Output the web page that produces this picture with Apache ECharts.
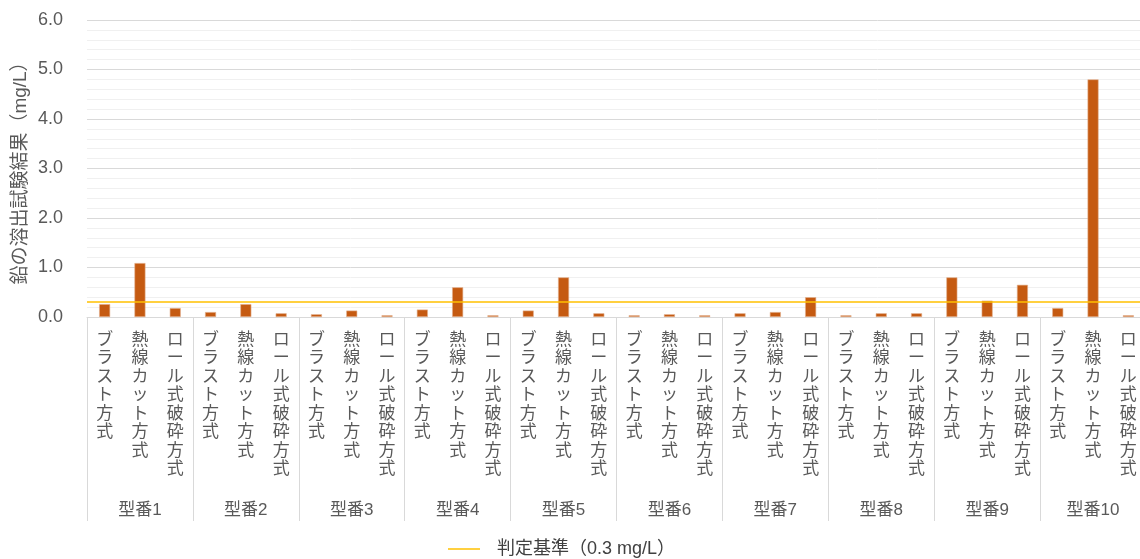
<!DOCTYPE html>
<html>
<head>
<meta charset="utf-8">
<script src="https://cdn.jsdelivr.net/npm/echarts@6/dist/echarts.min.js"></script>
<style>
  html, body { margin: 0; padding: 0; background: #fff; }
  #chart { width: 1140px; height: 559px; }
</style>
</head>
<body>
<div id="chart"></div>
<script>
// 型番ごとの鉛の溶出試験結果 (mg/L)
const groups = ['型番1', '型番2', '型番3', '型番4', '型番5', '型番6', '型番7', '型番8', '型番9', '型番10'];
const methods = ['ブラスト方式', '熱線カット方式', 'ロール式破砕方式'];
const blast = [0.26, 0.10, 0.055, 0.15, 0.13, 0.035, 0.075, 0.035, 0.80, 0.18];
const heatCut = [1.09, 0.26, 0.13, 0.60, 0.80, 0.055, 0.10, 0.075, 0.33, 4.80];
const rollCrush = [0.18, 0.075, 0.035, 0.035, 0.075, 0.035, 0.40, 0.075, 0.65, 0.035];
const criterion = 0.3;
const criterionName = '判定基準（0.3 mg/L）';
const yTicks = [0, 1, 2, 3, 4, 5, 6];

const font = "'Liberation Sans', 'Noto Sans CJK JP', sans-serif";
const textColor = '#595959';

// 30本のカテゴリ (型番 x 方式)
const methodCats = [];
const values = [];
groups.forEach((g, i) => {
  [blast, heatCut, rollCrush].forEach((arr, j) => {
    methodCats.push(methods[j]);
    values.push(arr[i]);
  });
});

const chart = echarts.init(document.getElementById('chart'));

const option = {
  animation: false,
  textStyle: { fontFamily: font },
  grid: { left: 87, right: -6, top: 20, bottom: 242, containLabel: false, outerBoundsMode: 'none' },
  legend: {
    data: [{ name: criterionName, icon: 'rect' }],
    left: 443,
    top: 535,
    itemWidth: 32,
    itemHeight: 1.5,
    textStyle: { fontSize: 18, color: '#404040', fontFamily: font, padding: [0, 0, 0, 12] }
  },
  xAxis: [
    {
      type: 'category',
      position: 'bottom',
      data: methodCats,
      axisLine: { show: true, lineStyle: { color: '#d9d9d9', width: 1 } },
      axisTick: { show: false },
      axisLabel: {
        interval: 0,
        margin: 14,
        color: textColor,
        fontSize: 17,
        lineHeight: 18.5,
        verticalAlign: 'top',
        formatter: (v) => v.split('').join('\n')
      }
    },
    {
      type: 'category',
      position: 'bottom',
      data: groups,
      axisLine: { show: false },
      axisTick: { show: true, length: 204, lineStyle: { color: '#d9d9d9', width: 1 } },
      axisLabel: { interval: 0, margin: 185, color: textColor, fontSize: 17 }
    }
  ],
  yAxis: {
    type: 'value',
    min: yTicks[0],
    max: yTicks[yTicks.length - 1],
    interval: 1,
    name: '鉛の溶出試験結果（mg/L）',
    nameLocation: 'middle',
    nameRotate: 90,
    nameGap: 57,
    nameMoveOverlap: false,
    nameTextStyle: { fontSize: 19, color: textColor },
    axisLine: { show: false },
    axisTick: { show: false },
    axisLabel: { fontSize: 18, color: textColor, margin: 24, formatter: (v) => v.toFixed(1) },
    splitLine: { lineStyle: { color: '#d9d9d9', width: 1 } },
    minorTick: { show: false, splitNumber: 5 },
    minorSplitLine: { show: true, lineStyle: { color: '#f0f0f0', width: 1 } }
  },
  series: [
    {
      name: '溶出試験結果',
      type: 'bar',
      xAxisIndex: 0,
      data: values,
      barWidth: 11,
      itemStyle: { color: '#C55A11', borderColor: '#e3b08e', borderWidth: 0.6 }
    },
    {
      name: criterionName,
      type: 'line',
      xAxisIndex: 0,
      data: [],
      symbol: 'none',
      lineStyle: { color: '#FFC000', width: 1.5 },
      itemStyle: { color: '#FFC000' },
      markLine: {
        silent: true,
        symbol: 'none',
        label: { show: false },
        lineStyle: { color: '#FFC000', width: 1.5, type: 'solid' },
        data: [{ yAxis: criterion }]
      }
    }
  ]
};

chart.setOption(option);
</script>
</body>
</html>
